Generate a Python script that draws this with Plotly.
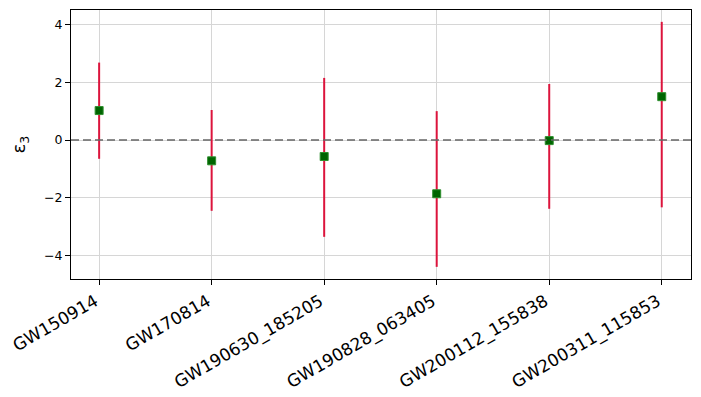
import plotly.graph_objects as go

events = ['GW150914', 'GW170814', 'GW190630_185205', 'GW190828_063405',
          'GW200112_155838', 'GW200311_115853']
eps3 = [1.02, -0.72, -0.57, -1.86, -0.02, 1.50]
err_hi = [1.66, 1.76, 2.72, 2.86, 1.96, 2.59]
err_lo = [1.67, 1.73, 2.78, 2.53, 2.36, 3.83]

fig = go.Figure()

fig.add_trace(go.Scatter(
    x=list(range(len(events))),
    y=eps3,
    mode='markers',
    marker=dict(symbol='square', size=8, color='darkgreen',
                line=dict(color='#2f8f2f', width=1)),
    error_y=dict(type='data', symmetric=False, array=err_hi, arrayminus=err_lo,
                 color='crimson', thickness=2, width=0),
    showlegend=False
))

# dashed reference line at zero
fig.add_shape(type='line', xref='paper', x0=0, x1=1, yref='y', y0=0, y1=0,
              line=dict(color='#666666', width=1.5, dash='8px,4px'))

axis_style = dict(
    showline=True, linecolor='black', linewidth=1, mirror=True,
    ticks='outside', ticklen=5, tickcolor='black',
    showgrid=True, gridcolor='#d6d6d6', gridwidth=1, zeroline=False,
    automargin=False,
)

fig.update_xaxes(
    tickvals=list(range(len(events))), ticktext=events,
    range=[-0.25, 5.26], tickangle=-30, ticklabelshift=-4,
    tickfont=dict(family='DejaVu Sans', size=17, color='black'),
    **axis_style
)
fig.update_yaxes(
    range=[-4.81, 4.50], tickvals=[-4, -2, 0, 2, 4],
    ticktext=['\u22124', '\u22122', '0', '2', '4'],
    tickfont=dict(family='DejaVu Sans', size=12.5, color='black'),
    title=dict(text='\u03b5<sub>3</sub>', font=dict(family='DejaVu Sans', size=18, color='black'),
               standoff=20),
    **axis_style
)

# page body has an 8px margin, so the figure is sized to fit the window
fig.update_layout(
    width=693, height=389,
    margin=dict(l=63, r=10, t=2, b=118),
    plot_bgcolor='white', paper_bgcolor='white',
)

fig.write_html("out.html")
